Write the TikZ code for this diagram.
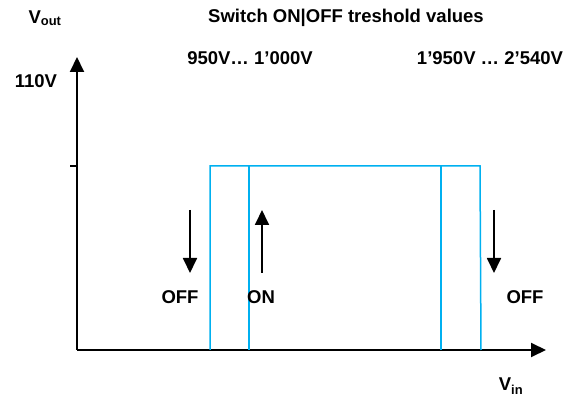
\documentclass[tikz,border=0pt]{standalone}
\usepackage{fontspec}
\setmainfont{Liberation Sans}
\usetikzlibrary{arrows.meta}
\definecolor{lineblue}{RGB}{0,176,240}
\tikzset{
  axis/.style={line width=2pt,-{Triangle[length=15pt,width=14pt]}},
  arr/.style={line width=1.8pt,-{Triangle[length=15pt,width=14pt]}},
  curve/.style={lineblue,line width=1.5pt},
  lbl/.style={font=\fontsize{18.5}{21}\selectfont\bfseries,inner sep=0pt},
}
\begin{document}
\begin{tikzpicture}[x=1pt,y=-1pt]
\useasboundingbox (0,0) rectangle (571,398);
% axes
\coordinate (o) at (77,350);
\coordinate (ytip) at (77,57);
\coordinate (xtip) at (546,350);
\draw[axis] (o) -- (ytip);
\draw[axis] (o) -- (xtip);
\coordinate (t1) at (70,166);
\coordinate (t2) at (77,166);
\draw[line width=1.2pt] (t1) -- (t2);
% blue hysteresis
\coordinate (a0) at (210,350); \coordinate (a1) at (210,166);
\coordinate (b0) at (249,350); \coordinate (b1) at (249,166);
\coordinate (c0) at (441,350); \coordinate (c1) at (441,166);
\coordinate (d0) at (481,350); \coordinate (d1) at (480,166);
\draw[curve] (a0) -- (a1) -- (d1) -- (d0);
\draw[curve] (b0) -- (b1);
\draw[curve] (c0) -- (c1);
% arrows
\coordinate (p1) at (190,210); \coordinate (q1) at (190,273);
\coordinate (p2) at (262,273); \coordinate (q2) at (262,210);
\coordinate (p3) at (494,210); \coordinate (q3) at (494,273);
\draw[arr] (p1) -- (q1);
\draw[arr] (p2) -- (q2);
\draw[arr] (p3) -- (q3);
% labels
\node[lbl] (vout) at (45,18) {V\textsubscript{out}};
\node[lbl] (v110) at (36,81) {110V};
\node[lbl] (title) at (346,18) {Switch ON|OFF treshold values};
\node[lbl] (r1) at (250,58) {950V… 1’000V};
\node[lbl] (r2) at (490,58) {1’950V … 2’540V};
\node[lbl] (off1) at (180,297) {OFF};
\node[lbl] (on) at (261,297) {ON};
\node[lbl] (off2) at (525,297) {OFF};
\node[lbl] (vin) at (511,386) {V\textsubscript{in}};
\end{tikzpicture}
\end{document}
